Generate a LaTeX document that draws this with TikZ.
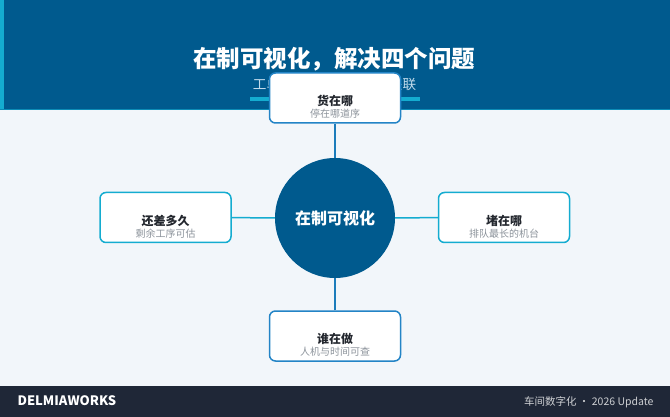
\documentclass[tikz,border=0pt]{standalone}
\usepackage{fontspec}
\setmainfont{Noto Sans CJK SC}
\usepackage{xcolor}
\usepackage{tikz}
\usetikzlibrary{shapes,positioning,calc}

\definecolor{deepblue}{HTML}{005A8E}
\definecolor{cyanline}{HTML}{14ACD0}
\definecolor{midblue}{HTML}{2384C6}
\definecolor{paper}{HTML}{F2F6FA}
\definecolor{footbg}{HTML}{1F2737}
\definecolor{ink}{HTML}{23272E}
\definecolor{mute}{HTML}{8C939B}
\definecolor{subtxt}{HTML}{C3DCEC}

\begin{document}
\begin{tikzpicture}[x=1pt,y=-1pt,
    box/.style={rectangle,draw,rounded corners=6pt,line width=1.5pt,fill=white,
        minimum width=131pt,minimum height=50pt,inner sep=0pt},
    tag/.style={align=center,text=ink,inner sep=0pt,
        font=\fontsize{12}{14}\selectfont\bfseries},
    link/.style={line width=1.5pt}]
    \useasboundingbox (0,0) rectangle (670,417);

    % page, header and footer bands
    \fill[paper] (0,0) rectangle (670,417);
    \fill[deepblue] (0,0) rectangle (670,110);
    \fill[cyanline] (0,0) rectangle (4,110);
    \draw[cyanline!60!deepblue,line width=1pt] (0,110) -- (670,110);
    \fill[footbg] (0,386) rectangle (670,417);

    % title and subtitle
    \node[text=white,font=\fontsize{23.5}{26}\selectfont\bfseries] (title) at (334,59) {在制可视化，解决四个问题};
    \node[text=subtxt,font=\fontsize{13.6}{15}\selectfont] (sub) at (334.5,84) {工单工序机台人员全程关联};
    \fill[cyanline] (250,97.5) rectangle (420,101.5);

    % hub
    \node[circle,fill=deepblue,minimum size=120pt,inner sep=0pt,text=white,
        font=\fontsize{16}{18}\selectfont\bfseries] (hub) at (335,218) {在制可视化};

    % four questions
    \node[box,draw=midblue] (where) at (335,98) {};
    \node[tag] (whereT) at ([yshift=-9pt]where.center) {货在哪\\[-2pt]{\fontsize{10}{12}\selectfont\mdseries\color{mute}停在哪道序}};

    \node[box,draw=cyanline] (left) at (165.5,217.5) {};
    \node[tag] (leftT) at ([yshift=-9pt]left.center) {还差多久\\[-2pt]{\fontsize{10}{12}\selectfont\mdseries\color{mute}剩余工序可估}};

    \node[box,draw=cyanline] (stuck) at (504,217.5) {};
    \node[tag] (stuckT) at ([yshift=-9pt]stuck.center) {堵在哪\\[-2pt]{\fontsize{10}{12}\selectfont\mdseries\color{mute}排队最长的机台}};

    \node[box,draw=midblue] (who) at (335,336) {};
    \node[tag] (whoT) at ([yshift=-9pt]who.center) {谁在做\\[-2pt]{\fontsize{10}{12}\selectfont\mdseries\color{mute}人机与时间可查}};

    % spokes
    \draw[link,midblue!80!deepblue] (where) -- (hub);
    \draw[link,midblue!80!deepblue] (who) -- (hub);
    \draw[link,cyanline] (left) -- (hub);
    \draw[link,cyanline] (stuck) -- (hub);

    % footer texts
    \node[anchor=west,text=white,font=\fontsize{13}{15}\selectfont\bfseries] (brand) at (14,401) {DELMIAWORKS};
    \node[anchor=east,text=white!78!footbg,font=\fontsize{10.5}{12}\selectfont] (edition) at (657,402) {车间数字化 · 2026 Update};
\end{tikzpicture}
\end{document}
